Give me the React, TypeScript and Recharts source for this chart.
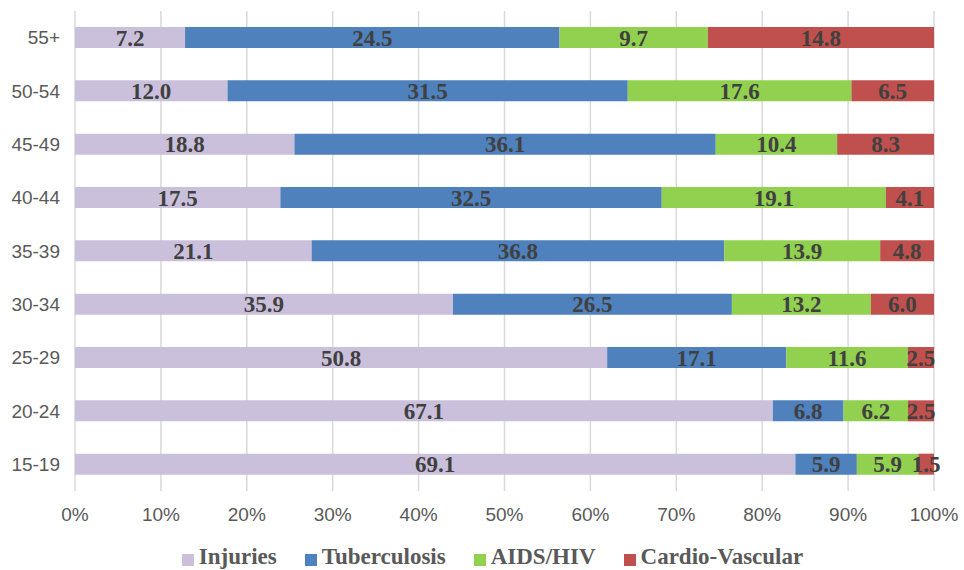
import { BarChart, Bar, XAxis, YAxis, CartesianGrid, Legend, LabelList } from "recharts";

const ageGroups = ["55+", "50-54", "45-49", "40-44", "35-39", "30-34", "25-29", "20-24", "15-19"];
const injuries = [7.2, 12.0, 18.8, 17.5, 21.1, 35.9, 50.8, 67.1, 69.1];
const tuberculosis = [24.5, 31.5, 36.1, 32.5, 36.8, 26.5, 17.1, 6.8, 5.9];
const aidsHiv = [9.7, 17.6, 10.4, 19.1, 13.9, 13.2, 11.6, 6.2, 5.9];
const cardio = [14.8, 6.5, 8.3, 4.1, 4.8, 6.0, 2.5, 2.5, 1.5];
const xTicks = [0, 0.1, 0.2, 0.3, 0.4, 0.5, 0.6, 0.7, 0.8, 0.9, 1];

const series = [
  { key: "injuries", name: "Injuries", color: "#cbc0dc" },
  { key: "tuberculosis", name: "Tuberculosis", color: "#4f81bd" },
  { key: "aids", name: "AIDS/HIV", color: "#92d050" },
  { key: "cardio", name: "Cardio-Vascular", color: "#c0504d" },
];

const data = ageGroups.map((age, i) => ({
  age,
  injuries: injuries[i],
  tuberculosis: tuberculosis[i],
  aids: aidsHiv[i],
  cardio: cardio[i],
}));

const serif = '"Liberation Serif", "Times New Roman", serif';
const sans = '"Liberation Sans", Arial, sans-serif';

function LegendContent() {
  return (
    <div
      style={{
        display: "flex",
        justifyContent: "center",
        paddingLeft: 21,
        paddingTop: 11,
        gap: 28,
        fontFamily: serif,
        fontWeight: "bold",
        fontSize: 23,
        lineHeight: "23px",
        color: "#595959",
      }}
    >
      {series.map((s) => (
        <div key={s.key} style={{ display: "flex", alignItems: "flex-end" }}>
          <span
            style={{
              display: "inline-block",
              width: 12,
              height: 12,
              background: s.color,
              marginRight: 5,
              marginBottom: 2,
            }}
          />
          <span>{s.name}</span>
        </div>
      ))}
    </div>
  );
}

export default function App() {
  return (
    <div style={{ position: "absolute", left: 0, top: 0 }}>
      <BarChart
        width={964}
        height={570}
        data={data}
        layout="vertical"
        stackOffset="expand"
        margin={{ top: 11, right: 30, left: 0, bottom: 0 }}
      >
        <CartesianGrid horizontal={false} stroke="#d9d9d9" strokeWidth={1.5} />
        <XAxis
          type="number"
          domain={[0, 1]}
          ticks={xTicks}
          tickFormatter={(v: number) => `${Math.round(v * 100)}%`}
          axisLine={false}
          tickLine={false}
          tickSize={6}
          tickMargin={11}
          height={43}
          tick={{ fontSize: 19, fill: "#595959", fontFamily: sans }}
        />
        <YAxis
          type="category"
          dataKey="age"
          width={75}
          axisLine={false}
          tickLine={false}
          tickSize={6}
          tickMargin={9}
          tick={{ fontSize: 19, fill: "#595959", fontFamily: sans }}
        />
        <Legend
          verticalAlign="bottom"
          height={36}
          content={<LegendContent />}
          wrapperStyle={{ left: 0, width: 964 }}
        />
        {series.map((s) => (
          <Bar
            key={s.key}
            dataKey={s.key}
            name={s.name}
            stackId="a"
            fill={s.color}
            barSize={21}
            isAnimationActive={false}
          >
            <LabelList
              dataKey={s.key}
              position="center"
              formatter={(v: number) => Number(v).toFixed(1)}
              style={{ fontFamily: serif, fontWeight: "bold", fontSize: 23, fill: "#404040" }}
            />
          </Bar>
        ))}
      </BarChart>
    </div>
  );
}
